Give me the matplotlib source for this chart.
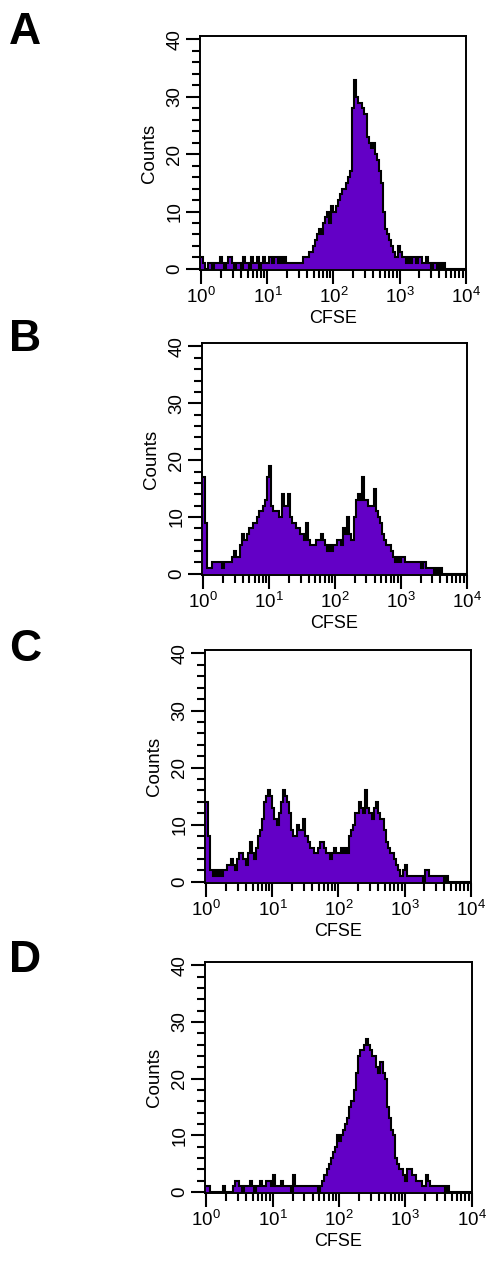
import numpy as np
import matplotlib
matplotlib.use("Agg")
import matplotlib.pyplot as plt
from matplotlib.ticker import FixedLocator, FuncFormatter, LogLocator, NullFormatter

plt.rcParams['font.family'] = ['Liberation Sans', 'DejaVu Sans']
plt.rcParams['mathtext.fontset'] = 'custom'
plt.rcParams['mathtext.rm'] = 'Liberation Sans'
plt.rcParams['mathtext.default'] = 'regular'

# 128 channels over 4 decades (32 per decade)
edges = 10 ** (np.arange(129) / 32)

panel_labels = ['A', 'B', 'C', 'D']

counts_A = [2, 1, 0, 1, 1, 0, 1, 1, 1, 2, 1, 0, 1, 2, 2, 1, 0, 1, 1, 0, 2, 1, 1, 0, 2, 1, 1, 2, 0, 1, 2, 1,
            1, 2, 1, 2, 2, 1, 2, 1, 2, 1, 1, 1, 1, 1, 1, 1, 1, 2, 2, 2, 3, 3, 4, 5, 6, 7, 6, 8, 9, 10, 8, 11,
            10, 11, 12, 13, 14, 14, 15, 16, 17, 28, 33, 30, 29, 29, 28, 27, 23, 22, 21, 22, 20, 19, 17, 15, 10, 7, 6, 5, 4, 3, 2, 4,
            3, 2, 2, 1, 2, 1, 2, 2, 1, 2, 2, 1, 1, 2, 1, 0, 1, 1, 0, 1, 0, 1, 0, 0, 0, 0, 0, 0, 0, 0, 0, 0]

counts_B = [17, 9, 1, 1, 2, 2, 2, 2, 2, 1, 2, 2, 2, 2, 3, 4, 3, 3, 5, 7, 6, 7, 8, 8, 9, 9, 10, 11, 11, 12, 13, 17,
            19, 12, 11, 11, 11, 10, 14, 12, 12, 14, 10, 9, 9, 8, 8, 7, 7, 6, 9, 6, 5, 5, 5, 6, 6, 7, 6, 5, 4, 5, 4, 5,
            5, 6, 6, 5, 8, 7, 10, 7, 6, 10, 13, 14, 13, 17, 13, 13, 12, 12, 12, 15, 11, 10, 9, 7, 6, 5, 5, 4, 3, 2, 3, 2,
            3, 3, 2, 2, 2, 2, 2, 2, 2, 2, 1, 2, 1, 1, 1, 1, 0, 1, 0, 1, 0, 0, 0, 0, 0, 0, 0, 0, 0, 0, 0, 0]

counts_C = [14, 8, 2, 1, 2, 1, 2, 1, 2, 2, 3, 3, 4, 3, 2, 4, 5, 5, 4, 3, 5, 7, 5, 4, 6, 8, 9, 11, 14, 15, 16, 15,
            13, 11, 10, 12, 14, 16, 15, 14, 12, 9, 8, 8, 10, 9, 9, 11, 8, 7, 6, 6, 5, 5, 6, 7, 7, 6, 5, 5, 4, 5, 6, 5,
            5, 6, 5, 6, 5, 8, 9, 10, 12, 12, 14, 13, 12, 16, 13, 12, 11, 13, 14, 12, 11, 11, 9, 7, 6, 5, 5, 4, 3, 2, 1, 2,
            3, 1, 1, 1, 1, 1, 1, 1, 1, 0, 2, 2, 1, 1, 1, 1, 1, 1, 1, 0, 1, 0, 0, 0, 0, 0, 0, 0, 0, 0, 0, 0]

counts_D = [1, 1, 0, 0, 0, 0, 0, 0, 1, 0, 0, 0, 0, 1, 2, 2, 1, 0, 1, 1, 1, 2, 1, 0, 1, 1, 2, 1, 1, 2, 2, 1,
            3, 1, 1, 1, 2, 1, 1, 1, 1, 0, 3, 1, 1, 1, 1, 1, 1, 1, 1, 1, 1, 1, 0, 1, 2, 3, 4, 5, 6, 7, 8, 10,
            9, 10, 11, 12, 13, 15, 16, 18, 21, 24, 25, 25, 26, 27, 26, 25, 24, 24, 22, 21, 23, 21, 20, 15, 13, 11, 10, 6, 5, 4, 4, 3,
            2, 4, 4, 3, 3, 2, 2, 2, 1, 1, 3, 2, 1, 1, 1, 1, 1, 1, 1, 0, 1, 0, 0, 0, 0, 0, 0, 0, 0, 0, 0, 0]

all_counts = [counts_A, counts_B, counts_C, counts_D]

# axes boxes in pixels: left, top, right, bottom
boxes = [(200, 36, 466, 270), (202, 343, 467, 575), (205, 650, 471, 883), (205, 962, 472, 1193)]
letter_y = [33, 340, 650, 960]

W, H = 490, 1261
fig = plt.figure(figsize=(W / 100, H / 100), dpi=100)

fill_col = '#6300c6'

for lab, cnt, (l, t, r, b), ly in zip(panel_labels, all_counts, boxes, letter_y):
    ax = fig.add_axes([l / W, 1 - b / H, (r - l) / W, (b - t) / H])
    ax.stairs(cnt, edges, fill=True, color=fill_col, lw=0)
    ax.stairs(cnt, edges, baseline=None, color='black', lw=1.5)
    ax.set_xscale('log')
    ax.set_xlim(10 ** -0.02, 10 ** 4.005)
    ax.set_ylim(-0.2, 40.6)

    ax.xaxis.set_major_locator(FixedLocator([1, 10, 100, 1000, 10000]))
    ax.xaxis.set_major_formatter(FuncFormatter(lambda v, p: r'$10^{%d}$' % round(np.log10(v))))
    ax.xaxis.set_minor_locator(LogLocator(base=10, subs=np.arange(2, 10), numticks=20))
    ax.xaxis.set_minor_formatter(NullFormatter())
    ax.set_yticks([0, 10, 20, 30, 40])
    ax.set_yticks(np.arange(0, 41, 2), minor=True)

    ax.tick_params(which='major', direction='out', length=10, width=1.5, labelsize=13.5, pad=2)
    ax.tick_params(which='minor', direction='out', length=6, width=1.5)
    for tl in ax.get_yticklabels():
        tl.set_rotation(90)
        tl.set_va('center')
    for s in ax.spines.values():
        s.set_linewidth(1.4)

    ax.set_xlabel('CFSE', fontsize=13, labelpad=2)
    ax.set_ylabel('Counts', fontsize=13.5, labelpad=6)

    fig.text(25 / W, 1 - ly / H, lab, fontsize=32, fontweight='bold', ha='center', va='center')

fig.savefig('out.png', dpi=100)
